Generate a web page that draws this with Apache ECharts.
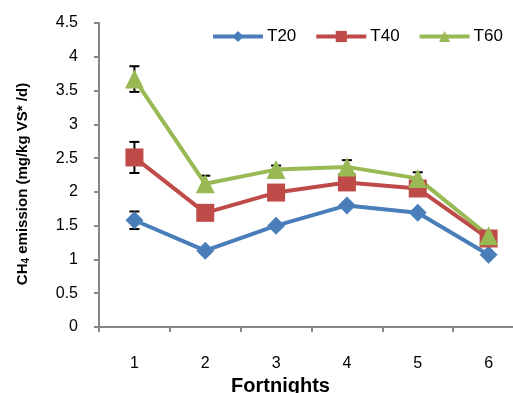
<!DOCTYPE html>
<html><head><meta charset="utf-8">
<script src="https://cdn.jsdelivr.net/npm/echarts@6/dist/echarts.min.js"></script>
<style>html,body{margin:0;padding:0;background:#fff}#c{width:513px;height:393px}</style>
</head><body><div id="c"></div>
<script>
var categories = ['1','2','3','4','5','6'];
var T20 = [1.58, 1.13, 1.50, 1.80, 1.69, 1.07];
var T40 = [2.51, 1.69, 1.99, 2.14, 2.05, 1.31];
var T60 = [3.67, 2.12, 2.33, 2.37, 2.20, 1.35];
var T20err = [0.13, 0.04, 0.04, 0.04, 0.04, 0.03];
var T40err = [0.23, 0.05, 0.05, 0.05, 0.05, 0.04];
var T60err = [0.19, 0.12, 0.06, 0.10, 0.09, 0.04];
var yTicks = {min: 0, max: 4.5, interval: 0.5};

var colors = {T20: '#4a7ebb', T40: '#be4b48', T60: '#98b954'};
var fontFam = 'Liberation Sans, Arial, sans-serif';

function errData(vals, errs) {
  return vals.map(function (v, i) { return [i, v - errs[i], v + errs[i]]; });
}
function errSeries(vals, errs) {
  return {
    type: 'custom', z: 1, silent: true,
    data: errData(vals, errs),
    renderItem: function (params, api) {
      var lo = api.coord([api.value(0), api.value(1)]);
      var hi = api.coord([api.value(0), api.value(2)]);
      var w = 5;
      var st = {stroke: '#000', lineWidth: 2};
      return {type: 'group', children: [
        {type: 'line', shape: {x1: hi[0], y1: hi[1], x2: lo[0], y2: lo[1]}, style: st},
        {type: 'line', shape: {x1: hi[0]-w, y1: hi[1], x2: hi[0]+w, y2: hi[1]}, style: st},
        {type: 'line', shape: {x1: lo[0]-w, y1: lo[1], x2: lo[0]+w, y2: lo[1]}, style: st}
      ]};
    }
  };
}
function lineSeries(name, vals, symbol, size) {
  return {
    name: name, type: 'line', data: vals, z: 3,
    symbol: symbol, symbolSize: size,
    lineStyle: {color: colors[name], width: 4},
    itemStyle: {color: colors[name]},
    emphasis: {disabled: true}
  };
}

var chart = echarts.init(document.getElementById('c'), null, {renderer: 'canvas'});
chart.setOption({
  animation: false,
  backgroundColor: '#fff',
  grid: {left: 99, top: 23, height: 304, width: 425, containLabel: false, outerBoundsMode: 'none'},
  legend: {
    top: 23, left: 206, itemWidth: 50, itemHeight: 14, itemGap: 18,
    lineStyle: {width: 4},
    textStyle: {fontFamily: fontFam, fontSize: 17, color: '#000', padding: [0, 0, 0, -1]},
    data: ['T20', 'T40', 'T60']
  },
  xAxis: {
    type: 'category', data: categories, boundaryGap: true,
    name: 'Fortnights', nameLocation: 'middle', nameGap: 48,
    nameTextStyle: {fontFamily: fontFam, fontSize: 20, fontWeight: 'bold', color: '#000', padding: [0, 62, 0, 0]},
    axisLine: {lineStyle: {color: '#868686', width: 2}},
    axisTick: {show: true, length: 5, alignWithLabel: false, lineStyle: {color: '#868686', width: 2}},
    axisLabel: {fontFamily: fontFam, fontSize: 16, color: '#000', margin: 29},
    splitLine: {show: false}
  },
  yAxis: {
    type: 'value', min: yTicks.min, max: yTicks.max, interval: yTicks.interval,
    name: '{b|CH}{s|4}{b| emission (mg/kg VS* /d)}', nameLocation: 'middle', nameGap: 68,
    nameTextStyle: {
      padding: [0, 18, 0, 0],
      rich: {
        b: {fontFamily: fontFam, fontSize: 15, fontWeight: 'bold', color: '#000'},
        s: {fontFamily: fontFam, fontSize: 10, fontWeight: 'bold', color: '#000', verticalAlign: 'bottom', padding: [7, 0, 0, 0]}
      }
    },
    axisLine: {show: true, lineStyle: {color: '#868686', width: 2}},
    axisTick: {show: true, length: 5, lineStyle: {color: '#868686', width: 2}},
    axisLabel: {fontFamily: fontFam, fontSize: 16, color: '#000', margin: 21},
    splitLine: {show: false}
  },
  series: [
    errSeries(T20, T20err),
    errSeries(T40, T40err),
    errSeries(T60, T60err),
    lineSeries('T20', T20, 'diamond', 18),
    lineSeries('T40', T40, 'rect', 18),
    lineSeries('T60', T60, 'triangle', 19)
  ]
});
</script>
</body></html>
